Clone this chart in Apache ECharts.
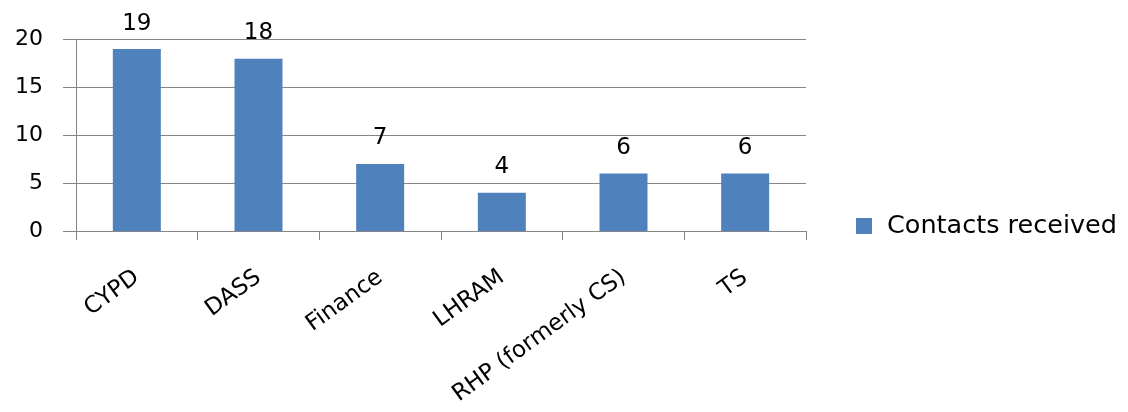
<!DOCTYPE html>
<html>
<head>
<meta charset="utf-8">
<script src="https://cdn.jsdelivr.net/npm/echarts@6/dist/echarts.min.js"></script>
<style>
html,body{margin:0;padding:0;background:#fff;}
#chart{width:1128px;height:412px;}
</style>
</head>
<body>
<div id="chart"></div>
<script>
const categories = ["CYPD", "DASS", "Finance", "LHRAM", "RHP (formerly CS)", "TS"];
const contactsReceived = [19, 18, 7, 4, 6, 6];
const seriesName = "Contacts received";
const yTicks = { min: 0, max: 20, interval: 5 };

const chart = echarts.init(document.getElementById('chart'));
const FONT = '"DejaVu Sans", Verdana, sans-serif';
chart.setOption({
  animation: false,
  backgroundColor: '#ffffff',
  grid: { left: 76, right: 322, top: 39.5, bottom: 181, containLabel: false, outerBoundsMode: 'none' },
  legend: {
    data: [seriesName],
    left: 856, top: 213, padding: 0,
    itemWidth: 16, itemHeight: 16,
    icon: 'rect',
    textStyle: { fontFamily: FONT, fontSize: 25.5, color: '#000', padding: [0, 0, 0, 10] }
  },
  xAxis: {
    type: 'category',
    data: categories,
    axisLine: { lineStyle: { color: '#868686', width: 1 } },
    axisTick: { show: true, length: 9, lineStyle: { color: '#868686' } },
    axisLabel: {
      rotate: 36, margin: 44, color: '#000',
      fontFamily: FONT, fontSize: 23, interval: 0
    }
  },
  yAxis: {
    type: 'value',
    min: yTicks.min, max: yTicks.max, interval: yTicks.interval,
    axisLine: { show: true, lineStyle: { color: '#868686', width: 1 } },
    axisTick: { show: true, length: 13, lineStyle: { color: '#868686' } },
    splitLine: { lineStyle: { color: '#868686', width: 1 } },
    axisLabel: { margin: 33, color: '#000', fontFamily: FONT, fontSize: 22 }
  },
  series: [{
    name: seriesName,
    type: 'bar',
    data: contactsReceived,
    barWidth: 48,
    itemStyle: { color: '#4F81BD' },
    label: {
      show: true, position: 'top', distance: 14,
      color: '#000', fontFamily: FONT, fontSize: 23
    }
  }]
});
</script>
</body>
</html>
